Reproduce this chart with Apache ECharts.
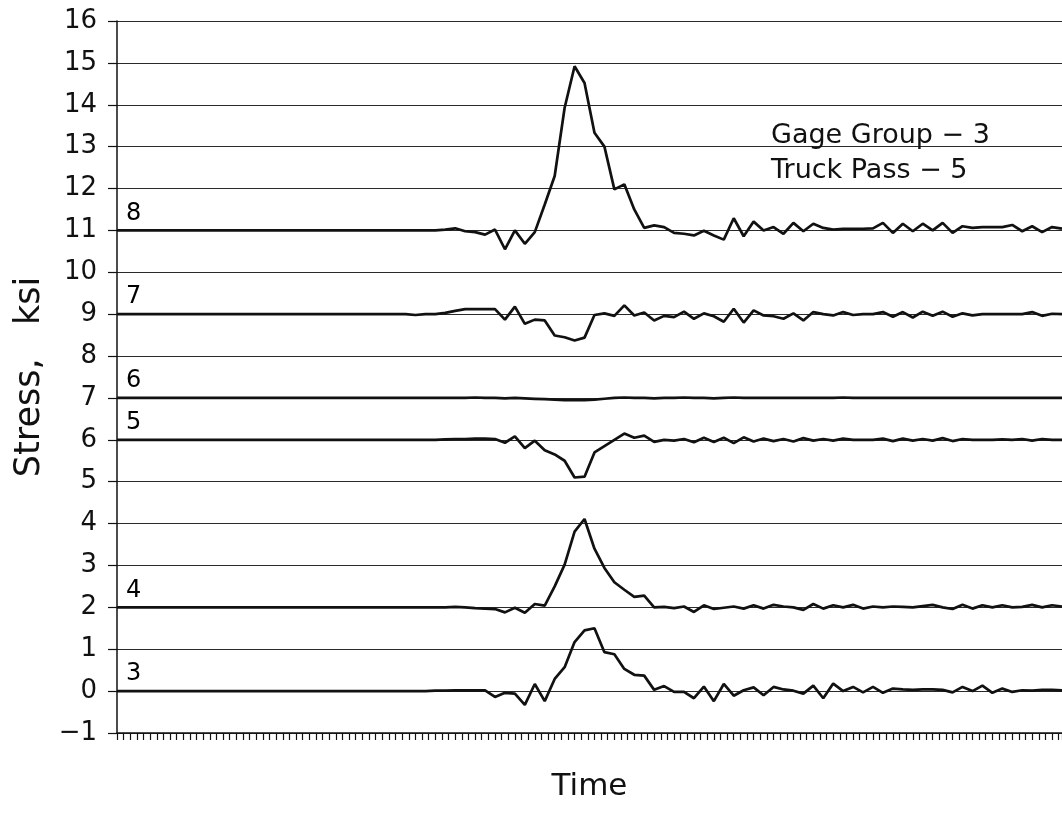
<!DOCTYPE html>
<html>
<head>
<meta charset="utf-8">
<script src="https://cdn.jsdelivr.net/npm/echarts@6/dist/echarts.min.js"></script>
<style>
  html, body { margin: 0; padding: 0; background: #ffffff; }
  #chart { width: 1062px; height: 827px; }
</style>
</head>
<body>
<div id="chart"></div>
<script>
// Strain-gage stress records, one trace per gage, each offset to its own baseline (ksi)
const gageNames = ['8', '7', '6', '5', '4', '3'];
const gageBaselines = [11, 9, 7, 6, 2, 0];

// Samples in time order (96 readings per gage)
const gage8 = [
  11, 11, 11, 11, 11, 11, 11, 11, 11, 11,
  11, 11, 11, 11, 11, 11, 11, 11, 11, 11,
  11, 11, 11, 11, 11, 11, 11, 11, 11, 11,
  11, 11, 11.0, 11.02, 11.05, 10.98, 10.96, 10.9, 11.02, 10.55,
  11.0, 10.68, 10.96, 11.62, 12.3, 13.93, 14.92, 14.52, 13.33, 13.0,
  11.98, 12.1, 11.5, 11.06, 11.12, 11.08, 10.94, 10.92, 10.88, 10.99,
  10.88, 10.78, 11.29, 10.86, 11.21, 11.0, 11.08, 10.92, 11.18, 10.98,
  11.16, 11.06, 11.02, 11.04, 11.04, 11.04, 11.05, 11.18, 10.94, 11.16,
  10.98, 11.16, 11.0, 11.18, 10.94, 11.1, 11.06, 11.08, 11.08, 11.08,
  11.13, 10.98, 11.1, 10.96, 11.08, 11.04
];
const gage7 = [
  9, 9, 9, 9, 9, 9, 9, 9, 9, 9,
  9, 9, 9, 9, 9, 9, 9, 9, 9, 9,
  9, 9, 9, 9, 9, 9, 9, 9, 9, 9,
  8.98, 9.0, 9.0, 9.03, 9.08, 9.12, 9.12, 9.12, 9.12, 8.87,
  9.18, 8.77, 8.87, 8.85, 8.49, 8.45, 8.37, 8.44, 8.98, 9.02,
  8.96, 9.21, 8.97, 9.04, 8.85, 8.96, 8.93, 9.06, 8.89, 9.02,
  8.95, 8.82, 9.13, 8.8, 9.09, 8.97, 8.95, 8.89, 9.02, 8.85,
  9.05, 9.0, 8.97, 9.05, 8.98, 9.0, 9.0, 9.05, 8.94, 9.05,
  8.92, 9.06, 8.96, 9.06, 8.94, 9.02, 8.97, 9.0, 9.0, 9.0,
  9.0, 9.0, 9.05, 8.96, 9.01, 9.0
];
const gage6 = [
  7, 7, 7, 7, 7, 7, 7, 7, 7, 7,
  7, 7, 7, 7, 7, 7, 7, 7, 7, 7,
  7, 7, 7, 7, 7, 7, 7, 7, 7, 7,
  7, 7, 7, 7, 7, 7, 7.01, 7.0, 7.0, 6.99,
  7.0, 6.99, 6.98, 6.97, 6.96, 6.95, 6.95, 6.95, 6.96, 6.98,
  7.0, 7.01, 7.0, 7.0, 6.99, 7.0, 7.0, 7.01, 7.0, 7.0,
  6.99, 7.0, 7.01, 7.0, 7.0, 7.0, 7.0, 7.0, 7.0, 7.0,
  7.0, 7.0, 7.0, 7.01, 7.0, 7.0, 7.0, 7.0, 7.0, 7.0,
  7.0, 7.0, 7.0, 7.0, 7.0, 7.0, 7.0, 7.0, 7.0, 7.0,
  7.0, 7.0, 7.0, 7.0, 7.0, 7.0
];
const gage5 = [
  6, 6, 6, 6, 6, 6, 6, 6, 6, 6,
  6, 6, 6, 6, 6, 6, 6, 6, 6, 6,
  6, 6, 6, 6, 6, 6, 6, 6, 6, 6,
  6, 6, 6, 6.01, 6.02, 6.02, 6.03, 6.03, 6.02, 5.93,
  6.08, 5.8, 5.98, 5.75, 5.65, 5.5, 5.1, 5.12, 5.7, 5.85,
  6.0, 6.15, 6.05, 6.1, 5.95, 6.0, 5.98, 6.02, 5.94, 6.05,
  5.95, 6.05, 5.92, 6.06, 5.96, 6.03, 5.97, 6.02, 5.96, 6.04,
  5.98, 6.02, 5.98, 6.03, 6.0, 6.0, 6.0, 6.03, 5.97, 6.03,
  5.98, 6.02, 5.98, 6.04, 5.97, 6.02, 6.0, 6.0, 6.0, 6.01,
  6.0, 6.02, 5.98, 6.02, 6.0, 6.0
];
const gage4 = [
  2, 2, 2, 2, 2, 2, 2, 2, 2, 2,
  2, 2, 2, 2, 2, 2, 2, 2, 2, 2,
  2, 2, 2, 2, 2, 2, 2, 2, 2, 2,
  2, 2, 2, 2, 2.01, 2.0, 1.98, 1.97, 1.96, 1.88,
  1.99, 1.87, 2.08, 2.04, 2.5, 3.02, 3.81, 4.11, 3.4, 2.94,
  2.6, 2.42, 2.25, 2.28, 2.0, 2.01, 1.98, 2.02, 1.89, 2.05,
  1.96, 1.99, 2.02, 1.97, 2.05, 1.97, 2.06, 2.02, 2.0, 1.94,
  2.08, 1.97, 2.05, 2.0, 2.06, 1.97, 2.02, 2.0, 2.02, 2.01,
  2.0, 2.03, 2.06, 2.0, 1.96, 2.06, 1.97, 2.05, 2.0, 2.05,
  2.0, 2.01, 2.06, 2.0, 2.05, 2.02
];
const gage3 = [
  0, 0, 0, 0, 0, 0, 0, 0, 0, 0,
  0, 0, 0, 0, 0, 0, 0, 0, 0, 0,
  0, 0, 0, 0, 0, 0, 0, 0, 0, 0,
  0, 0, 0.01, 0.01, 0.02, 0.02, 0.02, 0.02, -0.14, -0.04,
  -0.06, -0.33, 0.17, -0.24, 0.29, 0.57, 1.17, 1.45, 1.5, 0.93,
  0.88, 0.53, 0.39, 0.37, 0.03, 0.12, -0.02, -0.02, -0.17, 0.11,
  -0.24, 0.17, -0.11, 0.02, 0.09, -0.1, 0.1, 0.04, 0.01, -0.06,
  0.13, -0.17, 0.18, 0.0, 0.1, -0.03, 0.1, -0.04, 0.06, 0.04,
  0.03, 0.04, 0.04, 0.03, -0.03, 0.1, 0.0, 0.13, -0.04, 0.06,
  -0.02, 0.02, 0.01, 0.03, 0.03, 0.02
];
const gageTraces = [gage8, gage7, gage6, gage5, gage4, gage3];

// Stress axis ticks (ksi), time-axis ticks per sample, annotation lines
const stressMin = -1;
const stressMax = 16;
const stressStep = 1;
const timeTicksPerSample = 1.5;
const noteLines = ['Gage Group \u2212 3', 'Truck Pass \u2212 5'];

const lastSample = gage8.length - 1;
const FONT = '"DejaVu Sans", "Liberation Sans", sans-serif';
const INK = '#111111';

const traceSeries = gageTraces.map((vals, k) => ({
  name: 'Gage ' + gageNames[k],
  type: 'line',
  data: vals.map((v, i) => [i * timeTicksPerSample, v]),
  showSymbol: false,
  symbol: 'none',
  lineStyle: { color: INK, width: 2.7 },
  z: 5,
  silent: true
}));

// Gage number printed just above each baseline at the left edge
const gageTagSeries = {
  type: 'scatter',
  symbolSize: 0,
  silent: true,
  z: 6,
  itemStyle: { color: INK, opacity: 1 },
  data: gageNames.map((n, k) => ({ value: [0, gageBaselines[k]], tag: n })),
  label: {
    show: true,
    formatter: p => p.data.tag,
    position: [9, -5],
    align: 'left',
    verticalAlign: 'bottom',
    color: '#000000',
    opacity: 1,
    fontFamily: FONT,
    fontSize: 24
  }
};

const chart = echarts.init(document.getElementById('chart'), null, { renderer: 'canvas' });
chart.setOption({
  backgroundColor: '#ffffff',
  animation: false,
  grid: { left: 117, right: 0, top: 21, bottom: 94, containLabel: false },
  xAxis: {
    type: 'value',
    min: 0,
    max: lastSample * timeTicksPerSample,
    interval: 1,
    name: 'Time',
    nameLocation: 'middle',
    nameGap: 38,
    nameTextStyle: { color: INK, fontFamily: FONT, fontSize: 31 },
    axisLine: { show: true, onZero: false, lineStyle: { color: INK, width: 1.5 } },
    axisTick: { show: true, inside: false, length: 7, lineStyle: { color: INK, width: 1.2 } },
    axisLabel: { show: false },
    splitLine: { show: false }
  },
  yAxis: {
    type: 'value',
    min: stressMin,
    max: stressMax,
    interval: stressStep,
    name: 'Stress,   ksi',
    nameLocation: 'middle',
    nameGap: 70,
    nameTextStyle: { color: INK, fontFamily: FONT, fontSize: 35 },
    axisLine: { show: true, onZero: false, lineStyle: { color: INK, width: 1.5 } },
    axisTick: { show: true, inside: false, length: 9, lineStyle: { color: INK, width: 1.2 } },
    axisLabel: {
      color: INK,
      fontFamily: FONT,
      fontSize: 26,
      margin: 20,
      formatter: v => String(v).replace('-', '\u2212')
    },
    splitLine: { show: true, lineStyle: { color: '#2a2a2a', width: 1.2 } }
  },
  title: {
    text: noteLines.join('\n'),
    left: 766,
    top: 113,
    textStyle: { color: INK, fontFamily: FONT, fontSize: 27, fontWeight: 'normal', lineHeight: 35 }
  },
  series: traceSeries.concat([gageTagSeries])
});
</script>
</body>
</html>
